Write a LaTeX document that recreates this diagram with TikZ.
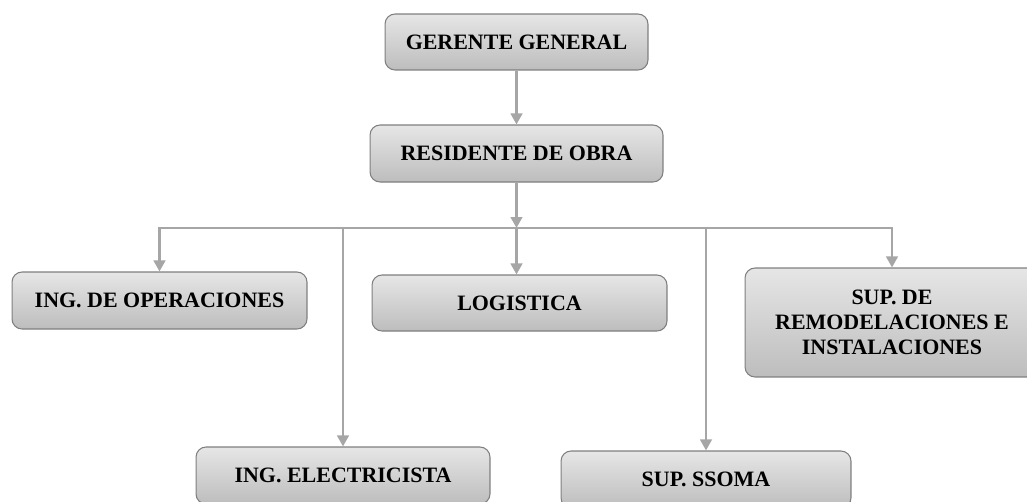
\documentclass[tikz,border=0pt]{standalone}
\usepackage{fontspec}
\setmainfont{Liberation Serif}
\usetikzlibrary{calc,arrows.meta}
\definecolor{boxtop}{HTML}{E6E6E6}
\definecolor{boxbot}{HTML}{BDBDBD}
\definecolor{boxline}{HTML}{7F7F7F}
\definecolor{connline}{HTML}{A6A6A6}
\tikzset{
	cargo/.style={draw=boxline,line width=0.6pt,rounded corners=2mm,top color=boxtop,bottom color=boxbot,font=\bfseries\fontsize{12.5}{14.2}\selectfont,align=center,inner sep=0pt},
	enlace/.style={draw=connline,line width=1.5pt,-{Triangle[length=2.2mm,width=2.3mm]}},
	linea/.style={draw=connline,line width=1.5pt}
}

\begin{document}
\begin{tikzpicture}[x=0.02cm,y=-0.02cm]
				\useasboundingbox (0,0) rectangle (1027,501);
				\clip (0,0) rectangle (1027,501);
				\coordinate (G) at (516.5,42);
				\coordinate (R) at (516.5,153.5);
				\coordinate (B) at (516.5,228);
				\coordinate (O) at (159.5,300.5);
				\coordinate (L) at (519.5,303);
				\coordinate (S) at (892,322.5);
				\coordinate (E) at (343,475.5);
				\coordinate (SS) at (706,479.5);

				\node (gerente) at (G)[cargo,minimum width=5.26cm,minimum height=1.12cm]{GERENTE GENERAL};
				\node (residente) at (R)[cargo,minimum width=5.86cm,minimum height=1.14cm]{RESIDENTE DE OBRA};
				\node (operaciones) at (O)[cargo,minimum width=5.9cm,minimum height=1.14cm]{ING. DE OPERACIONES};
				\node (logistica) at (L)[cargo,minimum width=5.9cm,minimum height=1.12cm]{LOGISTICA};
				\node (remodelaciones) at (S)[cargo,minimum width=5.88cm,minimum height=2.18cm]{SUP. DE\\REMODELACIONES E\\INSTALACIONES};
				\node (electricista) at (E)[cargo,minimum width=5.88cm,minimum height=1.14cm]{ING. ELECTRICISTA};
				\node (ssoma) at (SS)[cargo,minimum width=5.8cm,minimum height=1.14cm]{SUP. SSOMA};

				\draw[enlace] (gerente)--(residente);
				\draw[enlace] (residente)--(B);
				\draw[linea] (operaciones.north |- B)--(remodelaciones.north |- B);
				\draw[enlace] (B) -| (operaciones);
				\draw[enlace] (B) -| (remodelaciones);
				\draw[enlace] (B)--(B |- logistica.north);
				\draw[enlace] (electricista |- B)--(electricista);
				\draw[enlace] (ssoma |- B)--(ssoma);
			\end{tikzpicture}
\end{document}
